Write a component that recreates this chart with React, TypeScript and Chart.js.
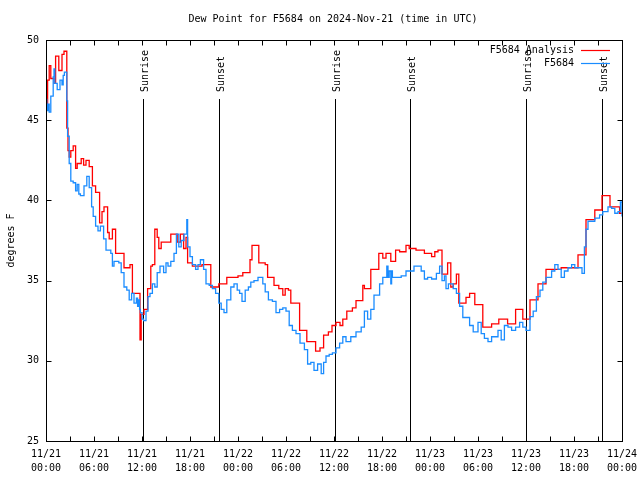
import { useEffect, useRef } from 'react';
import { Chart, registerables } from 'chart.js';

Chart.register(...registerables);

// ---------- data ----------
const redHours = [
  0.0, 0.2, 0.4, 0.6, 1.0, 1.2, 1.6, 2.0, 2.25, 2.6, 2.75, 2.9, 3.1, 3.4, 3.7, 3.9, 4.4, 4.7, 5.0, 5.4,
  5.8, 6.2, 6.7, 7.0, 7.25, 7.7, 7.9, 8.3, 8.7, 9.75, 10.5, 10.8, 11.75, 11.9, 12.25, 12.7, 13.1, 13.3, 13.6, 13.9,
  14.1, 14.4, 15.6, 16.4, 16.8, 17.2, 17.5, 17.7, 18.3, 19.5, 20.6, 21.6, 22.6, 24.0, 24.6, 25.5, 25.75, 26.6, 27.4, 27.7,
  28.5, 29.1, 29.6, 29.9, 30.3, 30.6, 31.7, 32.6, 33.7, 34.25, 34.7, 35.3, 35.75, 36.25, 36.75, 37.1, 37.6, 38.3, 38.75, 39.6,
  39.8, 40.6, 41.6, 42.1, 42.5, 43.1, 43.7, 44.2, 45.0, 45.4, 46.25, 47.3, 48.2, 48.6, 49.0, 49.5, 50.2, 50.6, 50.9, 51.3,
  51.6, 52.5, 52.95, 53.6, 54.6, 55.7, 56.6, 57.7, 58.7, 59.6, 60.5, 61.5, 62.5, 64.4, 66.5, 67.5, 68.6, 69.5, 70.5, 71.7,
  72.0,
];
const redValues = [
  46.0, 47.5, 48.4, 47.6, 47.3, 49.0, 48.1, 49.1, 49.3, 44.5, 43.1, 42.7, 43.1, 43.4, 42.0, 42.3, 42.6, 42.2, 42.5, 42.1,
  40.9, 40.5, 38.6, 39.3, 39.6, 38.0, 37.6, 38.2, 36.7, 35.8, 36.0, 34.2, 31.3, 32.9, 33.2, 34.5, 35.9, 36.0, 38.2, 37.7,
  37.0, 37.4, 37.9, 37.4, 37.9, 37.0, 37.7, 36.1, 35.9, 36.0, 34.6, 34.8, 35.2, 35.3, 35.5, 36.3, 37.2, 36.1, 36.0, 35.2,
  34.7, 34.5, 34.1, 34.5, 34.4, 33.6, 31.9, 31.2, 30.6, 30.8, 31.6, 31.8, 32.2, 32.4, 32.2, 32.6, 33.1, 33.3, 33.75, 34.7,
  34.5, 35.7, 36.7, 36.4, 36.7, 36.2, 36.9, 36.8, 37.2, 37.0, 36.9, 36.7, 36.5, 36.8, 36.9, 35.4, 36.1, 34.6, 34.8, 35.4,
  33.6, 33.95, 34.2, 33.5, 32.1, 32.3, 32.6, 32.3, 33.2, 32.6, 33.8, 34.8, 35.7, 35.8, 36.6, 38.8, 39.4, 40.3, 39.6, 39.2,
  39.2,
];

const blueHours = [
  0.0, 0.1, 0.25, 0.4, 0.6, 0.9, 1.0, 1.1, 1.4, 1.75, 2.0, 2.15, 2.3, 2.6, 2.7, 2.9, 3.1, 3.4, 3.7, 3.9,
  4.1, 4.3, 4.75, 5.1, 5.4, 5.7, 5.9, 6.2, 6.5, 6.8, 7.2, 7.5, 8.1, 8.3, 8.5, 9.1, 9.4, 9.75, 10.1, 10.4,
  10.7, 11.0, 11.3, 11.45, 11.6, 11.7, 11.8, 12.0, 12.2, 12.5, 12.75, 13.0, 13.3, 13.6, 13.9, 14.25, 14.7, 15.0, 15.25, 15.6,
  16.0, 16.3, 16.6, 16.9, 17.25, 17.6, 17.7, 18.0, 18.3, 18.7, 19.0, 19.3, 19.7, 20.0, 20.4, 20.8, 21.2, 21.6, 21.9, 22.25,
  22.6, 23.1, 23.5, 23.9, 24.2, 24.5, 24.9, 25.3, 25.6, 26.0, 26.5, 27.1, 27.4, 27.8, 28.3, 28.75, 29.2, 29.6, 30.0, 30.4,
  30.8, 31.25, 31.75, 32.3, 32.7, 33.1, 33.5, 33.95, 34.4, 34.7, 35.0, 35.4, 35.8, 36.25, 36.7, 37.1, 37.5, 38.1, 38.75, 39.4,
  39.8, 40.2, 40.6, 41.0, 41.7, 42.1, 42.6, 42.75, 42.9, 43.1, 43.2, 43.3, 44.4, 45.0, 46.0, 46.9, 47.3, 47.7, 48.2, 48.8,
  49.2, 49.5, 49.8, 50.0, 50.3, 50.9, 51.3, 51.7, 52.1, 52.95, 53.4, 54.0, 54.4, 54.8, 55.25, 55.7, 56.5, 56.9, 57.3, 57.75,
  58.2, 58.7, 59.2, 59.6, 60.0, 60.5, 60.9, 61.3, 61.75, 62.1, 62.5, 63.2, 63.6, 64.0, 64.4, 64.8, 65.25, 65.7, 66.1, 67.0,
  67.3, 67.5, 67.75, 68.6, 69.2, 69.6, 70.25, 70.7, 71.1, 71.5, 71.8, 72.0,
];
const blueValues = [
  46.3, 45.6, 46.0, 45.5, 46.5, 47.7, 48.2, 47.3, 46.9, 47.5, 47.2, 47.8, 48.0, 46.2, 44.0, 42.3, 41.2, 41.1, 40.6, 41.0,
  40.4, 40.3, 40.9, 41.5, 40.8, 39.6, 39.0, 38.4, 38.1, 38.4, 37.6, 36.9, 36.7, 35.9, 36.2, 36.1, 35.5, 34.6, 34.4, 33.8,
  34.2, 33.6, 33.9, 33.4, 33.8, 33.2, 33.0, 32.6, 32.5, 33.1, 34.0, 34.2, 34.8, 34.6, 35.5, 35.9, 35.5, 36.1, 35.9, 36.2,
  36.7, 37.9, 37.1, 37.5, 37.9, 38.8, 37.1, 36.5, 36.0, 35.7, 36.0, 36.3, 35.7, 34.8, 34.7, 34.5, 34.2, 33.6, 33.2, 33.0,
  33.8, 34.6, 34.8, 34.4, 34.2, 33.7, 34.4, 34.6, 34.9, 35.0, 35.2, 34.8, 34.3, 33.8, 33.7, 33.0, 33.2, 33.3, 33.1, 32.2,
  31.9, 31.7, 31.1, 30.7, 29.8, 29.9, 29.4, 29.8, 29.2, 29.9, 30.3, 30.4, 30.5, 30.8, 31.1, 31.5, 31.2, 31.5, 31.8, 32.1,
  33.1, 32.6, 33.2, 34.1, 34.8, 35.2, 35.9, 35.2, 35.6, 34.8, 35.6, 35.2, 35.3, 35.6, 35.9, 35.6, 35.1, 35.2, 35.1, 35.45,
  35.9, 35.0, 35.3, 34.5, 34.8, 34.5, 34.2, 33.4, 32.7, 32.2, 31.8, 32.4, 31.7, 31.4, 31.2, 31.5, 31.9, 31.3, 32.2, 32.1,
  31.9, 32.1, 32.4, 32.1, 31.9, 32.75, 33.1, 34.0, 34.4, 34.9, 35.2, 35.6, 36.0, 35.7, 35.2, 35.6, 35.8, 36.0, 35.8, 35.45,
  37.1, 38.2, 38.7, 38.9, 39.1, 39.3, 39.6, 39.5, 39.2, 39.3, 39.9, 39.0,
];

const sunriseHours = [12.12, 36.15, 60.05];
const sunsetHours = [21.6, 45.55, 69.5];

const dayLabels = ['11/21', '11/21', '11/21', '11/21', '11/22', '11/22', '11/22', '11/22', '11/23', '11/23', '11/23', '11/23', '11/24'];
const timeLabels = ['00:00', '06:00', '12:00', '18:00', '00:00', '06:00', '12:00', '18:00', '00:00', '06:00', '12:00', '18:00', '00:00'];

const titleText = 'Dew Point for F5684 on 2024-Nov-21 (time in UTC)';
const yAxisTitle = 'degrees F';
const seriesNames = ['F5684 Analysis', 'F5684'];
const seriesColors = ['#ff0000', '#1a8cff'];

const FONT = "'DejaVu Sans Mono', monospace";

function toPoints(xs: number[], ys: number[]) {
  return xs.map((x, i) => ({ x, y: ys[i] }));
}

const decorPlugin = {
  id: 'decor',
  beforeDatasetsDraw(chart: any) {
    const { ctx, chartArea, scales } = chart;
    const xs = scales.x;
    ctx.save();
    ctx.strokeStyle = '#000';
    ctx.lineWidth = 1;
    ctx.fillStyle = '#000';
    ctx.font = `10px ${FONT}`;
    const drawSun = (h: number, label: string) => {
      const px = Math.round(xs.getPixelForValue(h)) + 0.5;
      ctx.beginPath();
      ctx.moveTo(px, chartArea.top + 59);
      ctx.lineTo(px, chartArea.bottom);
      ctx.stroke();
      ctx.save();
      ctx.translate(px + 4, chartArea.top + 52);
      ctx.rotate(-Math.PI / 2);
      ctx.textAlign = 'left';
      ctx.textBaseline = 'alphabetic';
      ctx.fillText(label, 0, 0);
      ctx.restore();
    };
    sunriseHours.forEach((h) => drawSun(h, 'Sunrise'));
    sunsetHours.forEach((h) => drawSun(h, 'Sunset'));
    ctx.restore();
  },
  afterDraw(chart: any) {
    const { ctx, chartArea, scales } = chart;
    const xs = scales.x;
    const ys = scales.y;
    ctx.save();
    ctx.strokeStyle = '#000';
    ctx.lineWidth = 1;
    const L = Math.round(chartArea.left) + 0.5;
    const R = Math.round(chartArea.right) + 0.5;
    const T = Math.round(chartArea.top) + 0.5;
    const B = Math.round(chartArea.bottom) + 0.5;
    ctx.strokeRect(L, T, R - L, B - T);
    ctx.beginPath();
    for (let h = 0; h <= 72; h += 3) {
      const px = Math.round(xs.getPixelForValue(h)) + 0.5;
      ctx.moveTo(px, B);
      ctx.lineTo(px, B - 5);
      ctx.moveTo(px, T);
      ctx.lineTo(px, T + 5);
    }
    for (let v = 25; v <= 50; v += 5) {
      const py = Math.round(ys.getPixelForValue(v)) + 0.5;
      ctx.moveTo(L, py);
      ctx.lineTo(L + 5, py);
      ctx.moveTo(R, py);
      ctx.lineTo(R - 5, py);
    }
    ctx.stroke();

    ctx.fillStyle = '#000';
    ctx.font = `10px ${FONT}`;
    ctx.textAlign = 'center';
    ctx.textBaseline = 'middle';
    ctx.fillText(titleText, 333, 19);
    ctx.save();
    ctx.translate(11, (chartArea.top + chartArea.bottom) / 2);
    ctx.rotate(-Math.PI / 2);
    ctx.fillText(yAxisTitle, 0, 0);
    ctx.restore();

    ctx.textAlign = 'right';
    ctx.textBaseline = 'middle';
    seriesNames.forEach((name, i) => {
      const y = 50 + i * 13;
      ctx.fillStyle = '#000';
      ctx.fillText(name, 574, y);
      ctx.strokeStyle = seriesColors[i];
      ctx.lineWidth = 1.2;
      ctx.beginPath();
      ctx.moveTo(581, y + 0.5);
      ctx.lineTo(610, y + 0.5);
      ctx.stroke();
    });
    ctx.restore();
  },
};

export default function App() {
  const ref = useRef<HTMLCanvasElement | null>(null);
  useEffect(() => {
    if (!ref.current) return;
    const chart = new Chart(ref.current, {
      type: 'line',
      data: {
        datasets: [
          {
            label: seriesNames[1],
            data: toPoints(blueHours, blueValues),
            borderColor: seriesColors[1],
            borderWidth: 1.3,
            pointRadius: 0,
            stepped: 'before',
            fill: false,
            order: 0,
          },
          {
            label: seriesNames[0],
            data: toPoints(redHours, redValues),
            borderColor: seriesColors[0],
            borderWidth: 1.3,
            pointRadius: 0,
            stepped: 'before',
            fill: false,
            order: 1,
          },
        ],
      },
      options: {
        responsive: false,
        animation: false,
        devicePixelRatio: 1,
        layout: { padding: { top: 40, right: 18, left: 0, bottom: 0 } },
        plugins: { legend: { display: false }, title: { display: false }, tooltip: { enabled: false } },
        scales: {
          x: {
            type: 'linear',
            min: 0,
            max: 72,
            grid: { display: false, drawTicks: false },
            border: { display: false },
            afterFit: (s: any) => { s.height = 39; s.paddingLeft = 0; s.paddingRight = 0; },
            ticks: {
              stepSize: 6,
              autoSkip: false,
              maxRotation: 0,
              minRotation: 0,
              padding: 6,
              color: '#000',
              font: { family: FONT, size: 10, lineHeight: 1.4 },
              callback: (v: any) => {
                const i = Math.round(Number(v) / 6);
                return [dayLabels[i], timeLabels[i]];
              },
            },
          },
          y: {
            type: 'linear',
            min: 25,
            max: 50,
            grid: { display: false, drawTicks: false },
            border: { display: false },
            afterFit: (s: any) => { s.width = 46; s.paddingTop = 0; s.paddingBottom = 0; },
            ticks: {
              stepSize: 5,
              padding: 7,
              color: '#000',
              font: { family: FONT, size: 10 },
            },
          },
        },
      },
      plugins: [decorPlugin],
    });
    return () => chart.destroy();
  }, []);
  return (
    <div style={{ position: 'fixed', left: 0, top: 0, width: 640, height: 480, background: '#fff' }}>
      <canvas ref={ref} width={640} height={480} style={{ width: 640, height: 480 }} />
    </div>
  );
}
